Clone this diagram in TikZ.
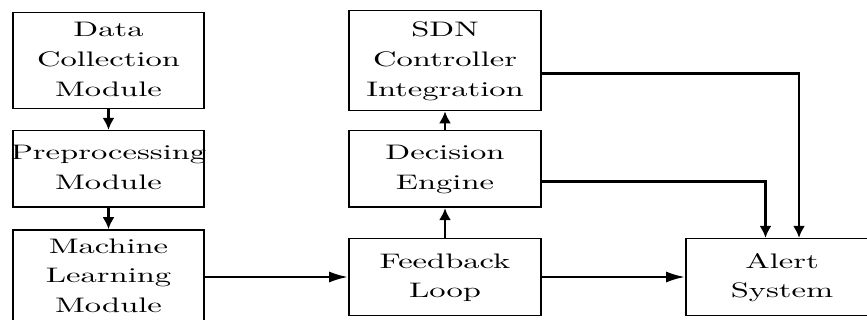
\documentclass[tikz,border=0pt]{standalone}
\usepackage{fontspec}
\usepackage{graphicx}
\usetikzlibrary{arrows.meta,calc}

% Block labels: centred lines, set wide
\newcommand\wideText[1]{\makebox[0pt]{\scalebox{1.55}[1]{\begin{tabular}{@{}c@{}}#1\end{tabular}}}}

\begin{document}
\begin{tikzpicture}[x=0.5pt,y=-0.5pt,
  block/.style={draw, line width=0.8pt, inner sep=0pt, minimum width=95.75pt,
    font=\fontsize{10.5}{15}\selectfont},
  tall/.style={block, minimum height=48pt},
  short/.style={block, minimum height=38.3pt},
  conn/.style={line width=1.3pt},
  varr/.style={conn, -{Latex[length=6pt,width=6pt]}},
  harr/.style={conn, -{Latex[length=9.5pt,width=5.5pt]}}]

  \useasboundingbox (0,0) rectangle (867,320);
  \clip (0,0) rectangle (867,320);

  % Processing pipeline
  \node[tall] (dc) at (108.5,60.5) {\wideText{Data\\Collection\\Module}};
  \node[short] (pre) at (108.5,169) {\wideText{Preprocessing\\Module}};
  \node[block, minimum height=47pt] (ml) at (108.5,277) {\wideText{Machine\\Learning\\Module}};

  % Decision and control
  \node[block, minimum width=96pt, minimum height=50pt] (sdn) at (445,60.5) {\wideText{SDN\\Controller\\Integration}};
  \node[short, minimum width=96pt] (dec) at (445,169) {\wideText{Decision\\Engine}};
  \node[short, minimum width=96pt] (fb) at (445,277) {\wideText{Feedback\\Loop}};
  \node[short, minimum width=96pt] (alert) at (782,277) {\wideText{Alert\\System}};

  % Connectors
  \draw[varr] (dc) -- (pre);
  \draw[varr] (pre) -- (ml);
  \draw[harr] (ml) -- (fb);
  \draw[varr] (fb) -- (dec);
  \draw[varr] (dec) -- (sdn);
  \draw[harr] (fb) -- (alert);
  \draw[varr] ($(dec.east)+(0,12.5)$) -| ($(alert.north)+(-16.5,0)$);
  \draw[varr] ($(sdn.east)+(0,13)$) -| ($(alert.north)+(17,0)$);
\end{tikzpicture}
\end{document}
